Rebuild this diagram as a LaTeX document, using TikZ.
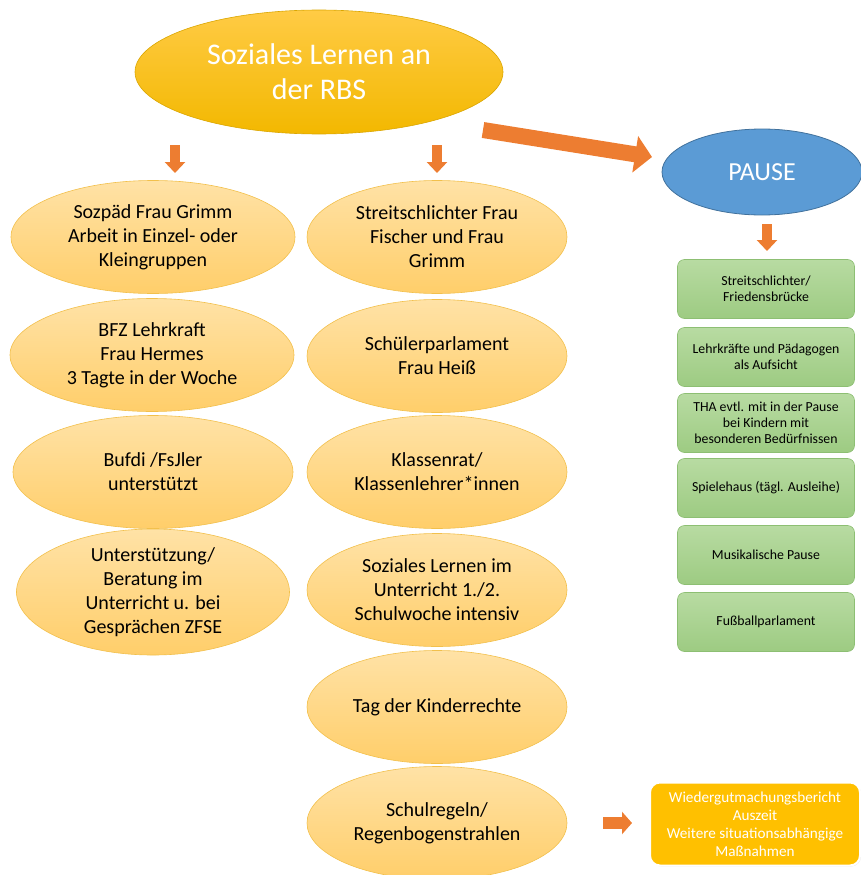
\documentclass[tikz,border=0pt]{standalone}
\usepackage{fontspec}
\setmainfont{Carlito}
\usetikzlibrary{shapes.geometric,arrows.meta,shadows}
\definecolor{elltop}{HTML}{FFE2A6}
\definecolor{ellbot}{HTML}{FFCE6A}
\definecolor{ellline}{HTML}{F2C04C}
\definecolor{titletop}{HTML}{FFCB45}
\definecolor{titlebot}{HTML}{F3B800}
\definecolor{grntop}{HTML}{B8DBA2}
\definecolor{grnbot}{HTML}{9DCB82}
\definecolor{grnline}{HTML}{8DBF73}
\definecolor{pauseblue}{HTML}{5B9BD5}
\definecolor{pauseline}{HTML}{41719C}
\definecolor{arroworange}{HTML}{ED7D31}
\definecolor{massgold}{HTML}{FFC000}
\begin{document}
\begin{tikzpicture}[x=1pt,y=-1pt,
  ell node/.style={ellipse,draw=ellline,line width=.6pt,top color=elltop,bottom color=ellbot,minimum width=284pt,minimum height=113pt,inner sep=0pt,align=center,font=\fontsize{20}{24}\selectfont},
  mid node/.style={ell node,minimum width=260pt},
  title node/.style={ellipse,draw=titlebot!90!black,line width=.6pt,top color=titletop,bottom color=titlebot,minimum width=368pt,minimum height=124pt,inner sep=0pt,align=center,text=white,font=\fontsize{30}{35}\selectfont},
  pause node/.style={ellipse,draw=pauseline,line width=.8pt,fill=pauseblue,minimum width=200pt,minimum height=86pt,text=white,font=\fontsize{26}{30}\selectfont},
  green node/.style={rectangle,rounded corners=7pt,draw=grnline,line width=.6pt,top color=grntop,bottom color=grnbot,minimum width=177pt,minimum height=59pt,inner sep=0pt,align=center,font=\fontsize{13.8}{16}\selectfont},
  mass node/.style={rectangle,rounded corners=10pt,draw=white,line width=2pt,fill=massgold,drop shadow={opacity=.2,shadow xshift=1pt,shadow yshift=-1pt},minimum width=210pt,minimum height=83pt,inner sep=0pt,align=center,text=white,font=\fontsize{15.2}{18}\selectfont},
  block arrow/.style={draw=arroworange,fill=arroworange,line width=10pt,-{Triangle[length=11pt,width=20pt]}}]
\useasboundingbox (0,0) rectangle (860,875);
% top and pause
\node[title node] (rbs) at (319,72) {Soziales Lernen an\\der RBS};
\node[pause node] (pause) at (762,172) {PAUSE};
% left column
\node[ell node] (l1) at (153,237) {Sozpäd Frau Grimm\\Arbeit in Einzel- oder\\Kleingruppen};
\node[ell node] (l2) at (152,355) {BFZ Lehrkraft\\Frau Hermes\\3 Tagte in der Woche};
\node[ell node,minimum width=280pt] (l3) at (153,472) {Bufdi /FsJler\\unterstützt};
\node[ell node,minimum width=273pt,minimum height=111pt] (l4) at (153,592) {Unterstützung/\\Beratung im\\Unterricht u. bei\\Gesprächen ZFSE};
% middle column
\node[mid node] (m1) at (437,237) {Streitschlichter Frau\\Fischer und Frau\\Grimm};
\node[mid node] (m2) at (437,356) {Schülerparlament\\Frau Heiß};
\node[mid node] (m3) at (437,472) {Klassenrat/\\Klassenlehrer*innen};
\node[mid node] (m4) at (437,590) {Soziales Lernen im\\Unterricht 1./2.\\Schulwoche intensiv};
\node[mid node] (m5) at (437,707) {Tag der Kinderrechte};
\node[mid node] (m6) at (437,823) {Schulregeln/\\Regenbogenstrahlen};
% pause column
\node[green node] (g1) at (766,289) {Streitschlichter/\\Friedensbrücke};
\node[green node] (g2) at (766,357) {Lehrkräfte und Pädagogen\\als Aufsicht};
\node[green node] (g3) at (766,423) {THA evtl. mit in der Pause\\bei Kindern mit\\besonderen Bedürfnissen};
\node[green node] (g4) at (766,488) {Spielehaus (tägl. Ausleihe)};
\node[green node] (g5) at (766,555) {Musikalische Pause};
\node[green node] (g6) at (766,622) {Fußballparlament};
\node[mass node] (mass) at (755,824) {Wiedergutmachungsbericht\\Auszeit\\Weitere situationsabhängige\\Maßnahmen};
% arrows
\coordinate (a1) at (175,145);
\coordinate (a1e) at (175,173);
\coordinate (a2) at (437,145);
\coordinate (a2e) at (437,173);
\coordinate (a3) at (483,130);
\coordinate (a3e) at (652,157);
\coordinate (a4) at (767,224);
\coordinate (a4e) at (767,251);
\coordinate (a5) at (603,823);
\coordinate (a5e) at (632,823);
\draw [block arrow] (a1) -- (a1e);
\draw [block arrow] (a2) -- (a2e);
\draw [block arrow,line width=16pt,-{Triangle[length=17pt,width=36pt]}] (a3) -- (a3e);
\draw [block arrow] (a4) -- (a4e);
\draw [block arrow,line width=12pt,-{Triangle[length=10pt,width=22pt]}] (a5) -- (a5e);
\end{tikzpicture}
\end{document}
